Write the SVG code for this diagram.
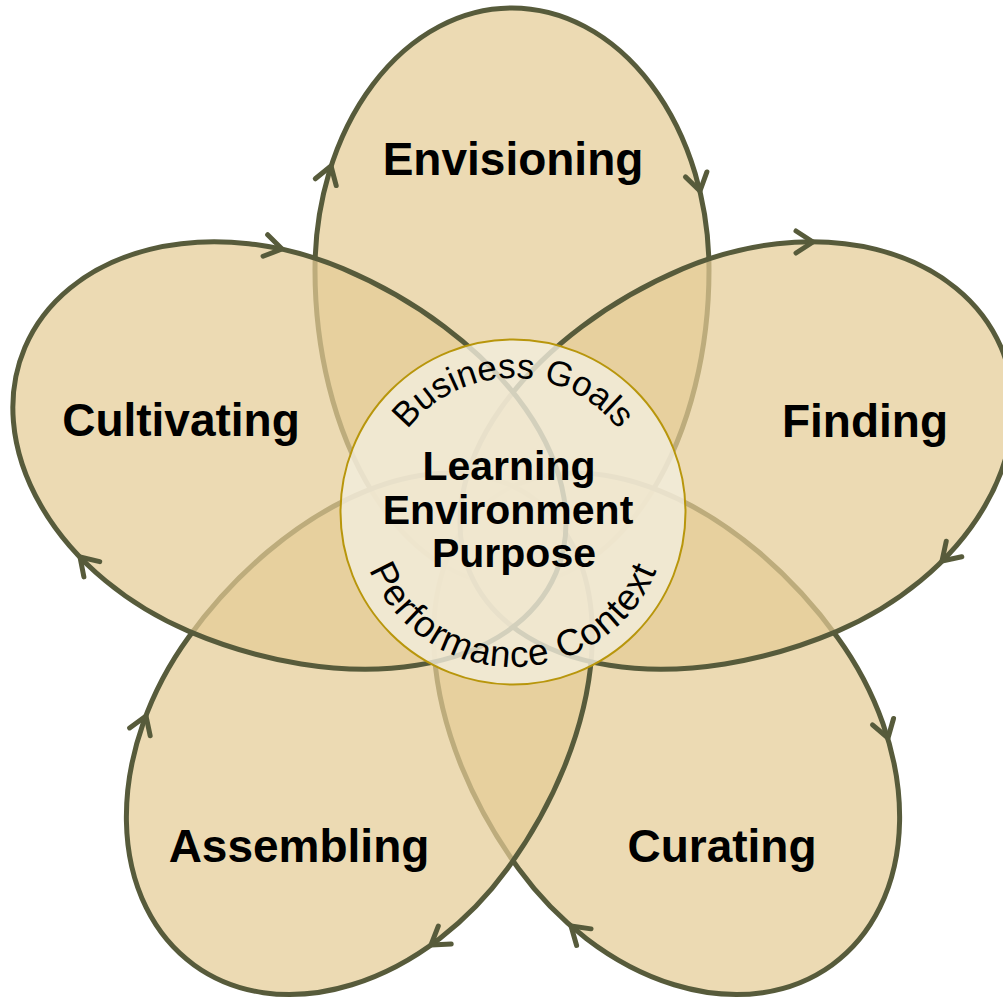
<svg xmlns="http://www.w3.org/2000/svg" xmlns:xlink="http://www.w3.org/1999/xlink" width="1003" height="999" viewBox="0 0 1003 999">
<defs>
<style>
.petal{fill:#E5CC96;fill-opacity:0.72;stroke:#575B3B;stroke-width:5}
.lbl{font-family:"Liberation Sans",Arial,sans-serif;font-weight:bold;font-size:46px;fill:#000;text-anchor:middle}
.ctr{font-family:"Liberation Sans",Arial,sans-serif;font-weight:bold;font-size:41px;fill:#000;text-anchor:middle}
.arc{font-family:"Liberation Sans",Arial,sans-serif;font-size:35px;fill:#000}
.chev{fill:none;stroke:#575B3B;stroke-width:5;stroke-linecap:round;stroke-linejoin:round}
</style>
<path id="egg" d="M -197 0 A 197 262 0 0 1 197 0 A 197 315 0 0 1 -197 0 Z"/>
<path id="chevron" d="M -17 -11 L 0 0 L -17 11"/>
<path id="topArc" d="M 379 512 A 134 134 0 0 1 647 512"/>
<path id="botArc" d="M 358 512 A 155 155 0 0 0 668 512"/>
</defs>
<rect width="1003" height="999" fill="#FFFFFF"/>
<g id="envisioning">
<use xlink:href="#egg" class="petal" transform="translate(512 270)"/>
<text class="lbl" x="513" y="175">Envisioning</text>
</g>
<g id="curating">
<use xlink:href="#egg" class="petal" transform="translate(678 753) rotate(144)"/>
<text class="lbl" x="722" y="862">Curating</text>
</g>
<g id="assembling">
<use xlink:href="#egg" class="petal" transform="translate(348 753) rotate(-144)"/>
<text class="lbl" x="299" y="862">Assembling</text>
</g>
<g id="finding">
<use xlink:href="#egg" class="petal" transform="translate(760 450) rotate(67)"/>
<text class="lbl" x="865" y="437">Finding</text>
</g>
<g id="cultivating">
<use xlink:href="#egg" class="petal" transform="translate(266 450) rotate(-67)"/>
<text class="lbl" x="181" y="436">Cultivating</text>
</g>
<g id="connectors">
<use xlink:href="#chevron" class="chev" transform="translate(331 166) rotate(-72)"/>
<use xlink:href="#chevron" class="chev" transform="translate(700 191) rotate(77)"/>
<use xlink:href="#chevron" class="chev" transform="translate(813 242) rotate(0)"/>
<use xlink:href="#chevron" class="chev" transform="translate(942 561) rotate(135)"/>
<use xlink:href="#chevron" class="chev" transform="translate(888 738) rotate(73)"/>
<use xlink:href="#chevron" class="chev" transform="translate(571 926) rotate(-139)"/>
<use xlink:href="#chevron" class="chev" transform="translate(431 945) rotate(144)"/>
<use xlink:href="#chevron" class="chev" transform="translate(146 716) rotate(-69)"/>
<use xlink:href="#chevron" class="chev" transform="translate(80 557) rotate(-134)"/>
<use xlink:href="#chevron" class="chev" transform="translate(282 249) rotate(12)"/>
</g>
<g id="center">
<circle cx="513" cy="512" r="172.5" fill="#F3EEDD" fill-opacity="0.8" stroke="#B8960C" stroke-width="2"/>
<text class="arc"><textPath xlink:href="#topArc" startOffset="50%" text-anchor="middle">Business Goals</textPath></text>
<text class="arc" style="font-size:37px;letter-spacing:1px"><textPath xlink:href="#botArc" startOffset="50%" text-anchor="middle">Performance Context</textPath></text>
<text class="ctr" x="509" y="480">Learning</text>
<text class="ctr" x="508" y="524">Environment</text>
<text class="ctr" x="514" y="567">Purpose</text>
</g>
</svg>
